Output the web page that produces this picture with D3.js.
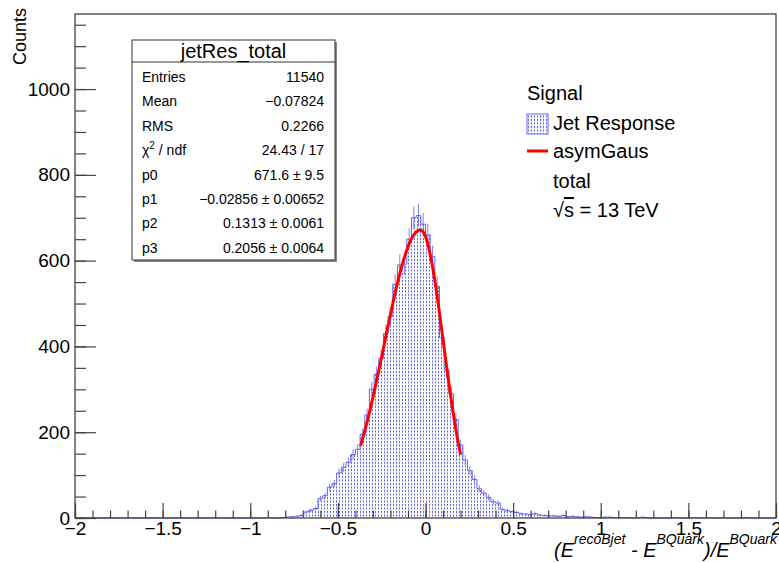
<!DOCTYPE html>
<meta charset="utf-8">
<html lang="en">
  <head>
    <style>
      body { margin: 0; background-color: #fff; }
      text { font-family: "Liberation Sans", Arial, sans-serif; fill: #000; }
      .tick text { font-size: 19px; }
      .tick line { stroke: #444; stroke-width: 1.2px; }
      .hist { fill: url(#dots); stroke: none; }
      .outline { fill: none; stroke: #6464f0; stroke-width: 1px; }
      .err { stroke: #6464f0; stroke-width: 1px; opacity: 0.8; }
      .fit { fill: none; stroke: #ff0000; stroke-width: 3px; }
    </style>
  </head>

  <body>

    <script src="https://cdn.jsdelivr.net/npm/d3@7"></script>

    <svg>
    </svg>

    <script>

      // histogram binning and bin contents
      var histMin = -2, histMax = 2, nBins = 150;
      var counts = [
        0, 0, 0, 0, 0, 0, 0, 0, 0, 0,
        0, 0, 0, 0, 0, 0, 0, 0, 0, 0,
        0, 0, 0, 0, 0, 0, 0, 0, 0, 0,
        0, 0, 0, 0, 0, 0, 0, 0, 0, 0,
        0, 1, 0, 0, 1, 2, 3, 4, 6, 14,
        18, 22, 45, 52, 72, 80, 105, 118, 130, 148,
        160, 195, 240, 300, 335, 372, 430, 470, 545, 590,
        592, 650, 700, 705, 685, 660, 610, 540, 420, 345,
        290, 230, 170, 135, 110, 90, 68, 58, 48, 38,
        35, 20, 17, 15, 13, 10, 9, 8, 10, 7,
        6, 5, 5, 4, 6, 3, 4, 3, 2, 3,
        2, 1, 0, 2, 2, 1, 1, 0, 1, 0,
        1, 2, 1, 0, 0, 0, 0, 0, 1, 0,
        0, 0, 1, 0, 0, 1, 0, 0, 1, 0,
        0, 0, 0, 1, 0, 0, 0, 0, 0, 0
      ];

      // asymGaus fit parameters and range
      var fitParams = [671.6, -0.02856, 0.1313, 0.2056];
      var fitRange = [-0.371, 0.2];

      // axis ticks
      var xMajor = [-2, -1.5, -1, -0.5, 0, 0.5, 1, 1.5, 2];
      var xMinor = d3.range(-20, 21).map(function(i) { return i / 10; });
      var yMajor = [0, 200, 400, 600, 800, 1000];
      var yMinor = d3.range(0, 1175, 50);

      // stats box
      var statTitle = "jetRes_total";
      var statNames = ["Entries", "Mean", "RMS", "chi2", "p0", "p1", "p2", "p3"];
      var statValues = ["11540", "\u22120.07824", "0.2266", "24.43 / 17", "671.6 \u00b1 9.5",
                        "\u22120.02856 \u00b1 0.00652", "0.1313 \u00b1 0.0061", "0.2056 \u00b1 0.0064"];

      // legend
      var legendHeader = "Signal";
      var legendEntries = ["Jet Response", "asymGaus"];
      var legendNotes = ["total", "sqrts"];

      var width = 779, height = 563;

      var svg = d3.select("svg")
        .attr("width", width)
        .attr("height", height);

      var defs = svg.append("defs");
      var pat = defs.append("pattern")
        .attr("id", "dots")
        .attr("width", 3)
        .attr("height", 3.5)
        .attr("patternUnits", "userSpaceOnUse");
      pat.append("rect").attr("width", 1).attr("height", 2).attr("fill", "#5a5af0");

      var xScale = d3.scaleLinear()
        .domain([histMin, histMax])
        .range([75, 776]);

      var yScale = d3.scaleLinear()
        .domain([0, 1175])
        .range([518, 14]);

      var binWidth = (histMax - histMin) / nBins;
      var bins = counts.map(function(c, i) {
        return { x0: histMin + i * binWidth, x1: histMin + (i + 1) * binWidth, n: c };
      });

      // step outline points
      var steps = [];
      bins.forEach(function(b) {
        steps.push([b.x0, b.n]);
        steps.push([b.x1, b.n]);
      });

      var area = d3.area()
        .x(function(d) { return xScale(d[0]); })
        .y0(yScale(0))
        .y1(function(d) { return yScale(d[1]); });

      var line = d3.line()
        .x(function(d) { return xScale(d[0]); })
        .y(function(d) { return yScale(d[1]); });

      svg.append("path").datum(steps).attr("class", "hist").attr("d", area);
      svg.append("path").datum(steps).attr("class", "outline").attr("d", line);

      svg.selectAll(".err")
        .data(bins.filter(function(b) { return b.n > 0; }))
        .enter().append("line")
        .attr("class", "err")
        .attr("x1", function(b) { return xScale((b.x0 + b.x1) / 2); })
        .attr("x2", function(b) { return xScale((b.x0 + b.x1) / 2); })
        .attr("y1", function(b) { return yScale(Math.max(0, b.n - Math.sqrt(b.n))); })
        .attr("y2", function(b) { return yScale(b.n + Math.sqrt(b.n)); });

      // fit curve
      function asymGaus(x) {
        var s = x < fitParams[1] ? fitParams[3] : fitParams[2];
        var d = (x - fitParams[1]) / s;
        return fitParams[0] * Math.exp(-0.5 * d * d);
      }
      var fitX = d3.range(fitRange[0], fitRange[1] + 1e-9, (fitRange[1] - fitRange[0]) / 200);
      svg.append("path")
        .datum(fitX.map(function(x) { return [x, asymGaus(x)]; }))
        .attr("class", "fit")
        .attr("d", line);

      // frame
      svg.append("rect")
        .attr("x", xScale(histMin)).attr("y", yScale(1175))
        .attr("width", xScale(histMax) - xScale(histMin))
        .attr("height", yScale(0) - yScale(1175))
        .attr("fill", "none").attr("stroke", "#333").attr("stroke-width", 1.2);

      // axes
      var fmt = d3.format("");
      svg.append("g")
        .attr("transform", "translate(0," + yScale(0) + ")")
        .call(d3.axisBottom(xScale).tickValues(xMinor).tickSize(-7.5).tickFormat(""))
        .call(function(g) { g.select(".domain").remove(); });
      svg.append("g")
        .attr("transform", "translate(0," + yScale(0) + ")")
        .call(d3.axisBottom(xScale).tickValues(xMajor).tickSize(-15).tickPadding(4).tickFormat(fmt))
        .call(function(g) { g.select(".domain").remove(); });

      svg.append("g")
        .attr("transform", "translate(" + xScale(histMin) + ",0)")
        .call(d3.axisLeft(yScale).tickValues(yMinor).tickSize(-11).tickFormat(""))
        .call(function(g) { g.select(".domain").remove(); });
      svg.append("g")
        .attr("transform", "translate(" + xScale(histMin) + ",0)")
        .call(d3.axisLeft(yScale).tickValues(yMajor).tickSize(-21).tickPadding(5).tickFormat(fmt))
        .call(function(g) { g.select(".domain").remove(); });

      svg.selectAll(".tick text").attr("font-family", null).attr("font-size", null);

      // axis titles
      svg.append("text")
        .attr("transform", "translate(26,8) rotate(-90)")
        .attr("text-anchor", "end")
        .style("font-size", "18px")
        .text("Counts");

      var xt = svg.append("text")
        .attr("x", 777).attr("y", 557)
        .attr("text-anchor", "end")
        .style("font-size", "20px")
        .style("font-style", "italic");
      xt.append("tspan").text("(E");
      xt.append("tspan").attr("dy", -13).style("font-size", "14px").text("recoBjet");
      xt.append("tspan").attr("dy", 13).text(" - E");
      xt.append("tspan").attr("dy", -13).style("font-size", "14px").text("BQuark");
      xt.append("tspan").attr("dy", 13).text(")/E");
      xt.append("tspan").attr("dy", -13).style("font-size", "14px").text("BQuark");

      // stats box
      var box = svg.append("g");
      box.append("rect")
        .attr("x", 134).attr("y", 42).attr("width", 203).attr("height", 220)
        .attr("fill", "#888");
      box.append("rect")
        .attr("x", 132).attr("y", 40).attr("width", 203).attr("height", 220)
        .attr("fill", "#fff").attr("stroke", "#333").attr("stroke-width", 1);
      box.append("line")
        .attr("x1", 132).attr("x2", 335).attr("y1", 62).attr("y2", 62)
        .attr("stroke", "#333");
      box.append("text")
        .attr("x", 233.5).attr("y", 58)
        .attr("text-anchor", "middle")
        .style("font-size", "20px")
        .text(statTitle);

      statNames.forEach(function(name, i) {
        var y = 82 + i * 24.4;
        var t = box.append("text").attr("x", 142).attr("y", y).style("font-size", "14px");
        if (name === "chi2") {
          t.append("tspan").text("\u03c7");
          t.append("tspan").attr("dy", -6).style("font-size", "10px").text("2");
          t.append("tspan").attr("dy", 6).text(" / ndf");
        } else {
          t.text(name);
        }
        box.append("text")
          .attr("x", 324).attr("y", y)
          .attr("text-anchor", "end")
          .style("font-size", "14px")
          .text(statValues[i]);
      });

      // legend
      var leg = svg.append("g");
      leg.append("text").attr("x", 527).attr("y", 100).style("font-size", "20px").text(legendHeader);

      leg.append("rect")
        .attr("x", 527).attr("y", 114).attr("width", 21).attr("height", 20)
        .attr("fill", "url(#dots)").attr("stroke", "#6464f0");
      leg.append("text").attr("x", 553).attr("y", 130).style("font-size", "20px").text(legendEntries[0]);

      leg.append("line")
        .attr("x1", 527).attr("x2", 548).attr("y1", 151).attr("y2", 151)
        .attr("stroke", "#ff0000").attr("stroke-width", 3);
      leg.append("text").attr("x", 553).attr("y", 158).style("font-size", "20px").text(legendEntries[1]);

      leg.append("text").attr("x", 553).attr("y", 188).style("font-size", "20px").text(legendNotes[0]);

      var rs = leg.append("text").attr("x", 553).attr("y", 217).style("font-size", "20px");
      rs.append("tspan").text("\u221a");
      rs.append("tspan").style("text-decoration", "overline").text("s");
      rs.append("tspan").text(" = 13 TeV");

    </script>

  </body>
</html>
